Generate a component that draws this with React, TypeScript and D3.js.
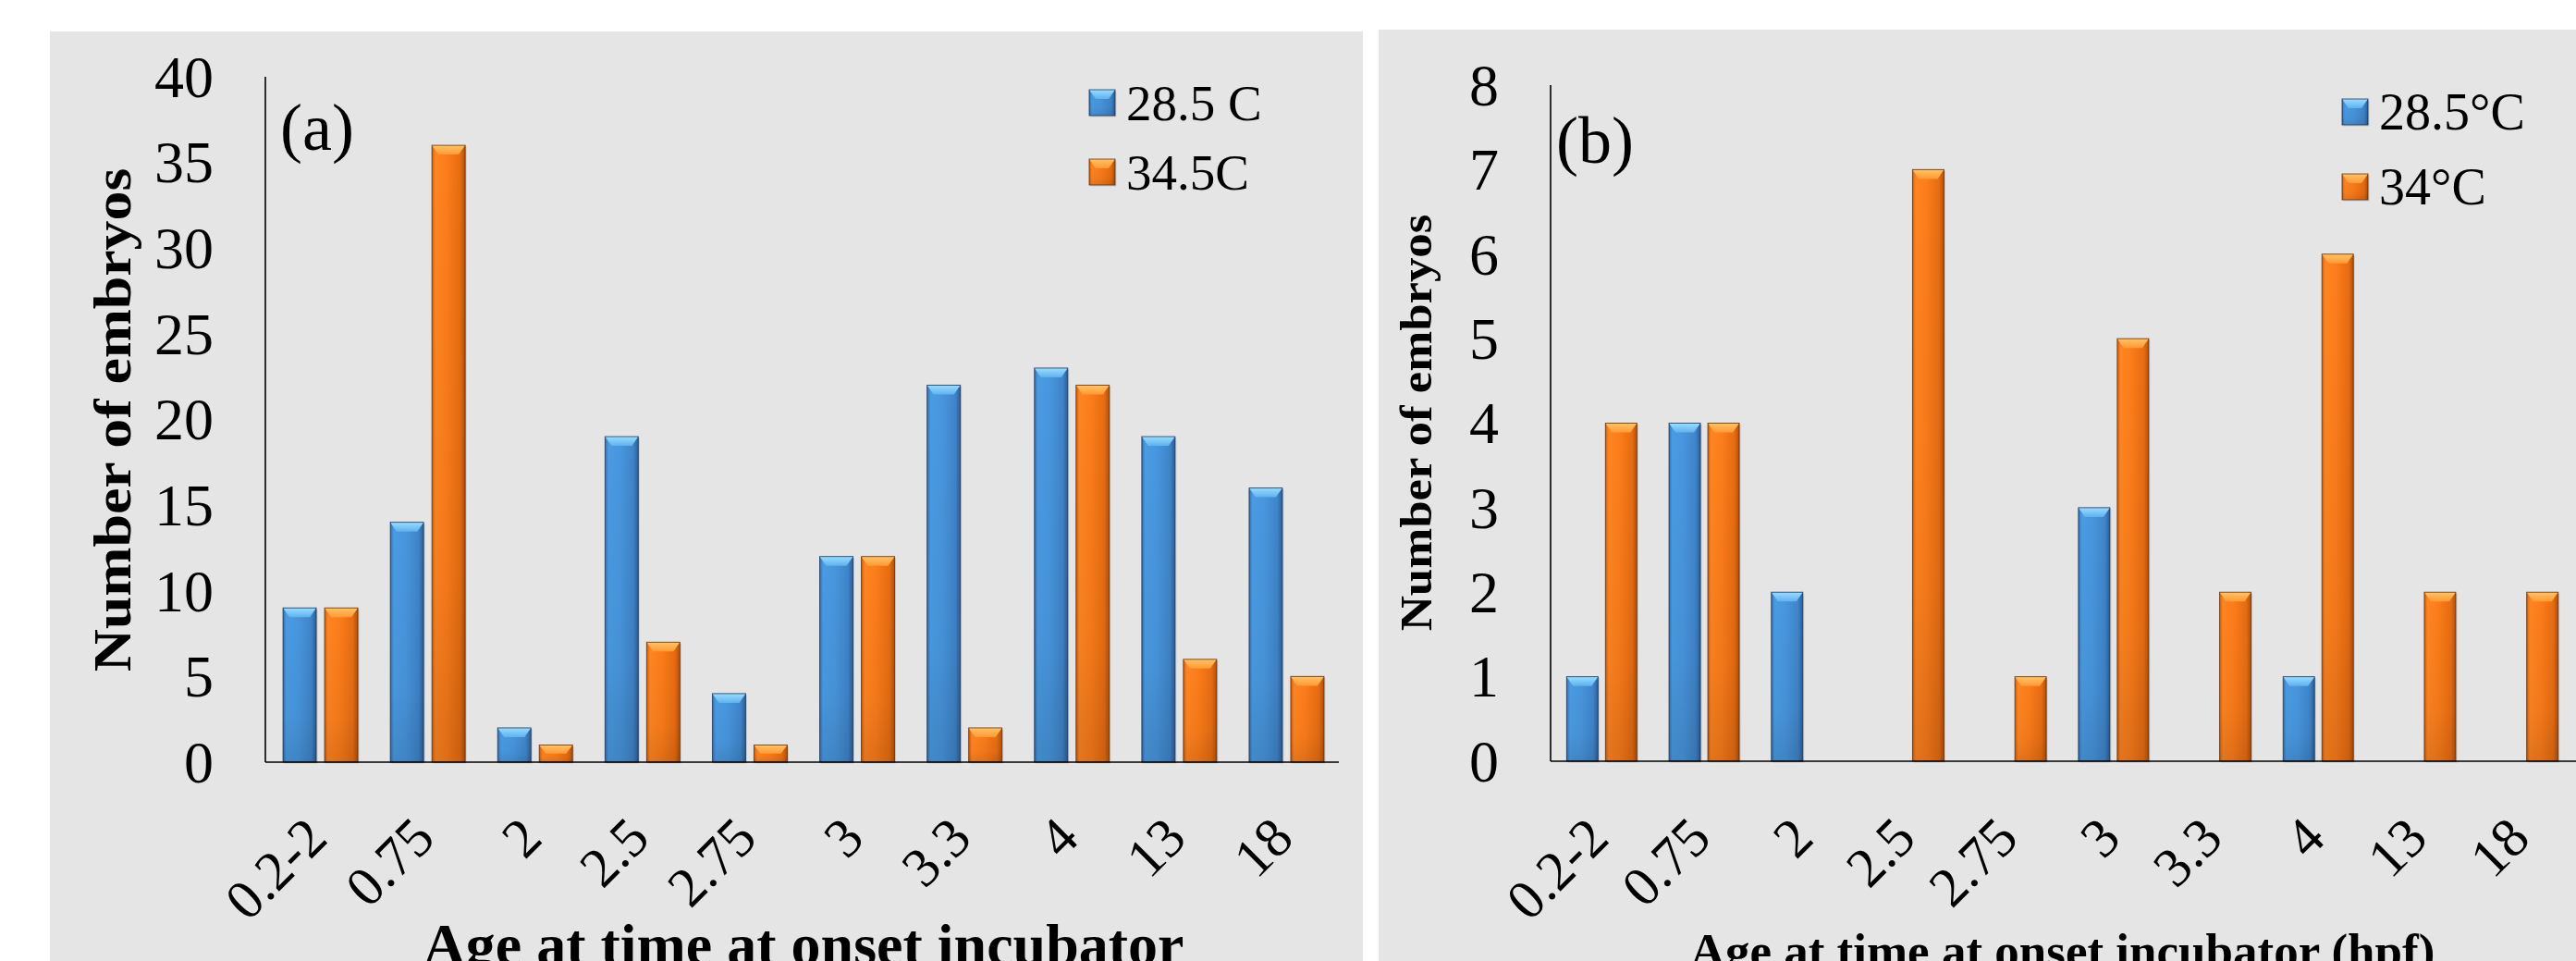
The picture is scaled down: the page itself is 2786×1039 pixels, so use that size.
import React from "react";
import * as d3 from "d3";

const categories = ["0.2-2", "0.75", "2", "2.5", "2.75", "3", "3.3", "4", "13", "18"];

const seriesNamesA = ["28.5 C", "34.5C"];
const valuesA285 = [9, 14, 2, 19, 4, 12, 22, 23, 19, 16];
const valuesA345 = [9, 36, 1, 7, 1, 12, 2, 22, 6, 5];
const yTicksA = [0, 5, 10, 15, 20, 25, 30, 35, 40];

const seriesNamesB = ["28.5\u00B0C", "34\u00B0C"];
const valuesB285 = [1, 4, 2, 0, 0, 3, 0, 1, 0, 0];
const valuesB34 = [4, 4, 0, 7, 1, 5, 2, 6, 2, 2];
const yTicksB = [0, 1, 2, 3, 4, 5, 6, 7, 8];

const panelLetterA = "(a)";
const panelLetterB = "(b)";
const yTitle = "Number of embryos";
const xTitleA = "Age at time at onset incubator";
const xTitleB = "Age at time at onset incubator (hpf)";

const W = 2786;
const H = 1039;
const FONT = "'Liberation Serif', 'Times New Roman', Times, serif";
const BG = "#e5e5e5";

const colorKeys = ["blue", "orange"];

function Gradients() {
  return (
    <defs>
      <linearGradient id="body-blue" x1="0" y1="0" x2="1" y2="0">
        <stop offset="0" stopColor="#336fae" />
        <stop offset="0.1" stopColor="#4a9be3" />
        <stop offset="0.45" stopColor="#4896de" />
        <stop offset="0.85" stopColor="#3f84c9" />
        <stop offset="1" stopColor="#2c5f98" />
      </linearGradient>
      <linearGradient id="bevel-blue" x1="0" y1="0" x2="0" y2="1">
        <stop offset="0" stopColor="#9bdcff" />
        <stop offset="1" stopColor="#5fb2ee" />
      </linearGradient>
      <linearGradient id="body-orange" x1="0" y1="0" x2="1" y2="0">
        <stop offset="0" stopColor="#cf5d0c" />
        <stop offset="0.1" stopColor="#ff8522" />
        <stop offset="0.45" stopColor="#fc7c1a" />
        <stop offset="0.85" stopColor="#e66c12" />
        <stop offset="1" stopColor="#b3500a" />
      </linearGradient>
      <linearGradient id="bevel-orange" x1="0" y1="0" x2="0" y2="1">
        <stop offset="0" stopColor="#ffc46a" />
        <stop offset="1" stopColor="#ff9a34" />
      </linearGradient>
      <linearGradient id="shade-v" x1="0" y1="0" x2="0" y2="1">
        <stop offset="0" stopColor="#000" stopOpacity="0" />
        <stop offset="0.7" stopColor="#000" stopOpacity="0.04" />
        <stop offset="1" stopColor="#000" stopOpacity="0.12" />
      </linearGradient>
    </defs>
  );
}

function BevelBar({ x, y, w, h, c }: { x: number; y: number; w: number; h: number; c: string }) {
  if (h <= 0) return null;
  const d = Math.min(10, h / 2);
  const ins = Math.min(7, w / 3);
  const stroke = c === "blue" ? "rgba(20,45,80,0.75)" : "rgba(90,40,5,0.75)";
  return (
    <g>
      <rect x={x + 1.5} y={y + 1.5} width={w} height={h} fill="rgba(0,0,0,0.12)" />
      <rect x={x} y={y} width={w} height={h} fill={`url(#body-${c})`} />
      <rect x={x} y={y} width={w} height={h} fill="url(#shade-v)" />
      <polygon
        points={`${x},${y} ${x + w},${y} ${x + w - ins},${y + d} ${x + ins},${y + d}`}
        fill={`url(#bevel-${c})`}
      />
      <rect x={x} y={y} width={w} height={h} fill="none" stroke={stroke} strokeWidth={1} />
    </g>
  );
}

type PanelProps = {
  bg: [number, number, number, number];
  xRange: [number, number];
  axisX: number;
  yBottom: number;
  yTop: number;
  yMax: number;
  yTicks: number[];
  values: number[][];
  names: string[];
  barW: number;
  gap: number;
  letter: string;
  letterPos: [number, number];
  legendX: number;
  legendY: number[];
  legendFont: number;
  yTitleX: number;
  yTitleY: number;
  yTitleFont: number;
  xTitle: string;
  xTitleY: number;
  xTitleFont: number;
  xEnd: number;
};

function Panel(p: PanelProps) {
  const x = d3.scaleBand<string>().domain(categories).range(p.xRange).paddingInner(0).paddingOuter(0);
  const y = d3.scaleLinear().domain([0, p.yMax]).range([p.yBottom, p.yTop]);
  const group = 2 * p.barW + p.gap;
  const xs = d3
    .scaleBand<string>()
    .domain(colorKeys)
    .range([-group / 2, group / 2])
    .paddingInner(p.gap / (p.barW + p.gap))
    .paddingOuter(0);
  const cx = (c: string) => (x(c) as number) + x.bandwidth() / 2;
  const xMid = (p.xRange[0] + p.xRange[1]) / 2;
  return (
    <g>
      <rect x={p.bg[0]} y={p.bg[1]} width={p.bg[2]} height={p.bg[3]} fill={BG} />
      {/* bars */}
      {categories.map((c, i) => (
        <g key={c}>
          {colorKeys.map((k, s) => {
            const v = p.values[s][i];
            const bx = cx(c) + (xs(k) as number);
            return <BevelBar key={k} x={bx} y={y(v)} w={xs.bandwidth()} h={y(0) - y(v)} c={k} />;
          })}
        </g>
      ))}
      {/* axes */}
      <line x1={p.axisX} x2={p.axisX} y1={p.yTop} y2={p.yBottom} stroke="#000" strokeWidth={1.6} />
      <line x1={p.axisX} x2={p.xEnd} y1={p.yBottom} y2={p.yBottom} stroke="#000" strokeWidth={1.6} />
      {/* y ticks */}
      {p.yTicks.map((t) => (
        <text
          key={t}
          x={p.axisX - 56}
          y={y(t)}
          dy="0.34em"
          textAnchor="end"
          fontFamily={FONT}
          fontSize={64}
          fill="#000"
        >
          {t}
        </text>
      ))}
      {/* x tick labels */}
      {categories.map((c) => (
        <text
          key={c}
          transform={`translate(${cx(c) + 10},${909}) rotate(-45)`}
          textAnchor="end"
          fontFamily={FONT}
          fontSize={60}
          fill="#000"
        >
          {c}
        </text>
      ))}
      {/* panel letter */}
      <text x={p.letterPos[0]} y={p.letterPos[1]} fontFamily={FONT} fontSize={72} fill="#000">
        {p.letter}
      </text>
      {/* legend */}
      {colorKeys.map((k, s) => (
        <g key={k}>
          <BevelBar x={p.legendX} y={p.legendY[s] - 14} w={28} h={28} c={k} />
          <text
            x={p.legendX + 40}
            y={p.legendY[s]}
            dy="0.34em"
            fontFamily={FONT}
            fontSize={p.legendFont}
            fill="#000"
          >
            {p.names[s]}
          </text>
        </g>
      ))}
      {/* y title */}
      <text
        transform={`translate(${p.yTitleX},${p.yTitleY}) rotate(-90) scale(1.1,1)`}
        textAnchor="middle"
        fontFamily={FONT}
        fontWeight="bold"
        fontSize={p.yTitleFont}
        fill="#000"
      >
        {yTitle}
      </text>
      {/* x title */}
      <text
        x={xMid}
        y={p.xTitleY}
        textAnchor="middle"
        fontFamily={FONT}
        fontWeight="bold"
        fontSize={p.xTitleFont}
        fill="#000"
      >
        {p.xTitle}
      </text>
    </g>
  );
}

export default function App() {
  return (
    <svg
      width={W}
      height={H}
      viewBox={`0 0 ${W} ${H}`}
      style={{ position: "absolute", left: 0, top: 0, background: "#fff", display: "block" }}
    >
      <Gradients />
      <rect x={0} y={0} width={W} height={H} fill="#fff" />
      <Panel
        bg={[54, 34, 1420, 1010]}
        xRange={[288.5, 1449.5]}
        axisX={287}
        xEnd={1448}
        yBottom={824}
        yTop={83}
        yMax={40}
        yTicks={yTicksA}
        values={[valuesA285, valuesA345]}
        names={seriesNamesA}
        barW={36}
        gap={9}
        letter={panelLetterA}
        letterPos={[303, 162]}
        legendX={1178}
        legendY={[111, 186]}
        legendFont={55}
        yTitleX={141}
        yTitleY={454}
        yTitleFont={58}
        xTitle={xTitleA}
        xTitleY={1043}
        xTitleFont={64}
      />
      <Panel
        bg={[1491, 32, 1300, 1010]}
        xRange={[1677, 2784]}
        axisX={1677}
        xEnd={2786}
        yBottom={823}
        yTop={92}
        yMax={8}
        yTicks={yTicksB}
        values={[valuesB285, valuesB34]}
        names={seriesNamesB}
        barW={34}
        gap={8}
        letter={panelLetterB}
        letterPos={[1683, 176]}
        legendX={2533}
        legendY={[121, 202]}
        legendFont={56}
        yTitleX={1548}
        yTitleY={457}
        yTitleFont={48}
        xTitle={xTitleB}
        xTitleY={1046}
        xTitleFont={53}
      />
    </svg>
  );
}
